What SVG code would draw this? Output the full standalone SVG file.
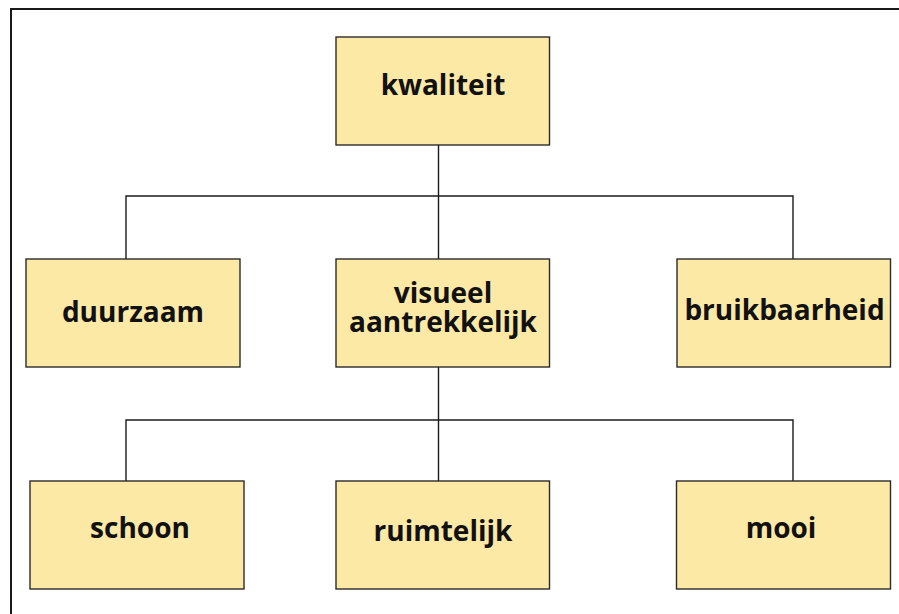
<svg xmlns="http://www.w3.org/2000/svg" width="899" height="614" viewBox="0 0 899 614">
<style>
.box{fill:#FDE9A6;stroke:#2b2b2b;stroke-width:1.4}
.lbl{font-family:"Open Sans","Noto Sans","DejaVu Sans",sans-serif;font-weight:bold;font-size:28px;fill:#111;text-anchor:middle}
.conn{fill:none;stroke:#1a1a1a;stroke-width:1.4}
</style>
<rect x="0" y="0" width="899" height="614" fill="#ffffff"/>
<rect id="frame" x="11" y="9" width="1000" height="1000" fill="none" stroke="#1a1a1a" stroke-width="2"/>
<g id="connectors" class="conn">
<path d="M438.5 145 V259"/>
<path d="M126 259 V196 H793 V259"/>
<path d="M438.5 367 V481"/>
<path d="M126 481 V420 H793 V481"/>
</g>
<g id="kwaliteit"><rect class="box" x="336" y="37" width="213.5" height="108"/><text class="lbl" x="443" y="95">kwaliteit</text></g>
<g id="duurzaam"><rect class="box" x="26" y="259" width="214" height="108"/><text class="lbl" x="133" y="321.5">duurzaam</text></g>
<g id="visueel"><rect class="box" x="336" y="259" width="213.5" height="108"/><text class="lbl" x="443" y="303">visueel</text><text class="lbl" x="443" y="331.5">aantrekkelijk</text></g>
<g id="bruikbaarheid"><rect class="box" x="677" y="259" width="213.5" height="108"/><text class="lbl" x="784.5" y="320">bruikbaarheid</text></g>
<g id="schoon"><rect class="box" x="30" y="481" width="214" height="108"/><text class="lbl" x="140" y="538">schoon</text></g>
<g id="ruimtelijk"><rect class="box" x="336" y="481" width="213.5" height="108"/><text class="lbl" x="443" y="540.5">ruimtelijk</text></g>
<g id="mooi"><rect class="box" x="676.5" y="481" width="214" height="108"/><text class="lbl" x="781" y="538">mooi</text></g>
</svg>
